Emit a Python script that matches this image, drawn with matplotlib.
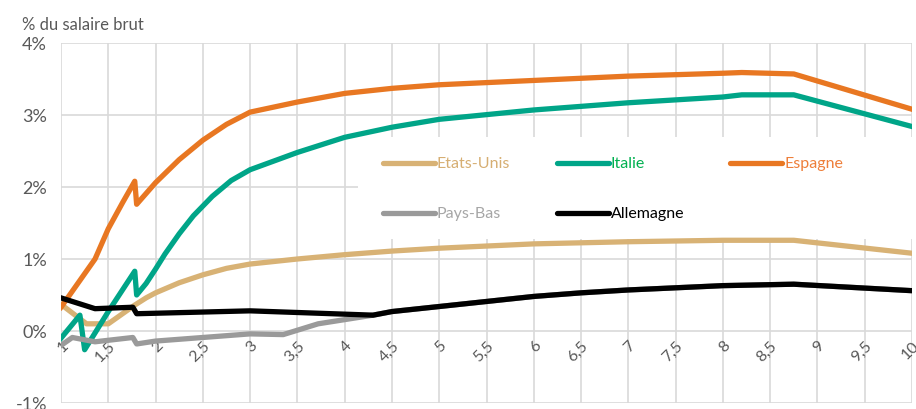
import matplotlib
matplotlib.use("Agg")
import matplotlib.pyplot as plt
from matplotlib.lines import Line2D
from matplotlib.patches import Rectangle

plt.rcParams['font.family'] = ['Lato', 'DejaVu Sans']

# Series data (x = multiple of the minimum wage, y = % of gross salary)
us_x = [1, 1.27, 1.5, 1.78, 1.9, 2, 2.25, 2.5, 2.75, 3, 3.5, 4, 4.5, 5, 6, 7, 8, 8.75, 10]
us_y = [0.37, 0.1, 0.1, 0.36, 0.46, 0.53, 0.67, 0.78, 0.87, 0.93, 1.0, 1.06, 1.11, 1.15, 1.21, 1.24, 1.26, 1.26, 1.08]

it_x = [1, 1.2, 1.25, 1.5, 1.78, 1.8, 1.9, 2, 2.1, 2.25, 2.4, 2.6, 2.8, 3, 3.5, 4, 4.5, 5, 6, 7, 8, 8.2, 8.75, 10]
it_y = [-0.1, 0.22, -0.26, 0.27, 0.83, 0.5, 0.66, 0.86, 1.07, 1.35, 1.60, 1.87, 2.09, 2.24, 2.48, 2.69, 2.83, 2.94, 3.07, 3.17, 3.25, 3.28, 3.28, 2.84]

es_x = [1, 1.36, 1.5, 1.65, 1.78, 1.8, 1.9, 2, 2.25, 2.5, 2.75, 3, 3.5, 4, 4.5, 5, 6, 7, 8, 8.2, 8.75, 10]
es_y = [0.33, 1.0, 1.42, 1.78, 2.08, 1.76, 1.91, 2.06, 2.38, 2.65, 2.87, 3.04, 3.18, 3.30, 3.37, 3.42, 3.48, 3.54, 3.58, 3.59, 3.57, 3.08]

nl_x = [1, 1.12, 1.36, 1.76, 1.8, 2, 3, 3.35, 3.72, 4.3, 4.5, 5, 5.5, 6, 6.5, 7, 7.5, 8, 8.75, 10]
nl_y = [-0.2, -0.09, -0.15, -0.09, -0.18, -0.14, -0.04, -0.05, 0.10, 0.22, 0.27, 0.34, 0.41, 0.48, 0.53, 0.57, 0.60, 0.63, 0.65, 0.56]

de_x = [1, 1.36, 1.76, 1.8, 3, 4.3, 4.5, 5, 5.5, 6, 6.5, 7, 7.5, 8, 8.75, 10]
de_y = [0.46, 0.31, 0.33, 0.24, 0.28, 0.22, 0.27, 0.34, 0.41, 0.48, 0.53, 0.57, 0.60, 0.63, 0.65, 0.56]

x_ticks = [1 + 0.5 * i for i in range(19)]
x_labels = [('%g' % t).replace('.', ',') for t in x_ticks]
y_ticks = [-1, 0, 1, 2, 3, 4]
y_labels = ['%d%%' % t for t in y_ticks]

series = [
    ('Etats-Unis', us_x, us_y, '#D8B275', '#D6AE72'),
    ('Italie', it_x, it_y, '#00A588', '#00B050'),
    ('Espagne', es_x, es_y, '#E87722', '#EE7F3A'),
    ('Pays-Bas', nl_x, nl_y, '#9A9A9A', '#A6A6A6'),
    ('Allemagne', de_x, de_y, '#000000', '#000000'),
]

W, H = 916, 410
fig = plt.figure(figsize=(W / 100, H / 100), dpi=100)
ax = fig.add_axes([61 / W, 1 - 404 / H, (912 - 61) / W, (404 - 44) / H])

ax.set_xlim(1, 10)
ax.set_ylim(-1, 4)
ax.set_axisbelow(True)
ax.grid(True, color='#D9D9D9', linewidth=1.2, zorder=0)
for s in ax.spines.values():
    s.set_visible(False)
ax.spines['bottom'].set_position(('data', 0))

ax.set_yticks(y_ticks)
ax.set_yticklabels(y_labels)
ax.set_xticks(x_ticks)
ax.set_xticklabels(x_labels, rotation=45, ha='right', va='top', rotation_mode='anchor')
ax.tick_params(axis='both', length=0, colors='#595959')
ax.tick_params(axis='y', labelsize=13, pad=10)
ax.tick_params(axis='x', labelsize=11.5, pad=5)

# white box behind the legend hiding the grid
ax.add_patch(Rectangle((358 / W, 1 - 240 / H), (916 - 358) / W, 102 / H,
                       transform=fig.transFigure, facecolor='white',
                       edgecolor='none', zorder=1))

for name, xs, ys, col, _ in series:
    ax.plot(xs, ys, color=col, linewidth=3.8, solid_joinstyle='round', zorder=3)

# legend drawn by hand
leg_pos = [(383, 164), (557, 164), (730, 164), (383, 214), (557, 214)]
for (name, _, _, col, tcol), (px, py) in zip(series, leg_pos):
    fy = 1 - py / H
    fig.add_artist(Line2D([px / W, (px + 52) / W], [fy, fy], color=col,
                          linewidth=3.8, solid_capstyle='round',
                          transform=fig.transFigure))
    fig.text((px + 54) / W, fy, name, color=tcol, fontsize=11.5,
             ha='left', va='center')

fig.text(22 / W, 1 - 25 / H, '% du salaire brut', color='#595959',
         fontsize=12, ha='left', va='center')

fig.savefig('out.png', dpi=100)
